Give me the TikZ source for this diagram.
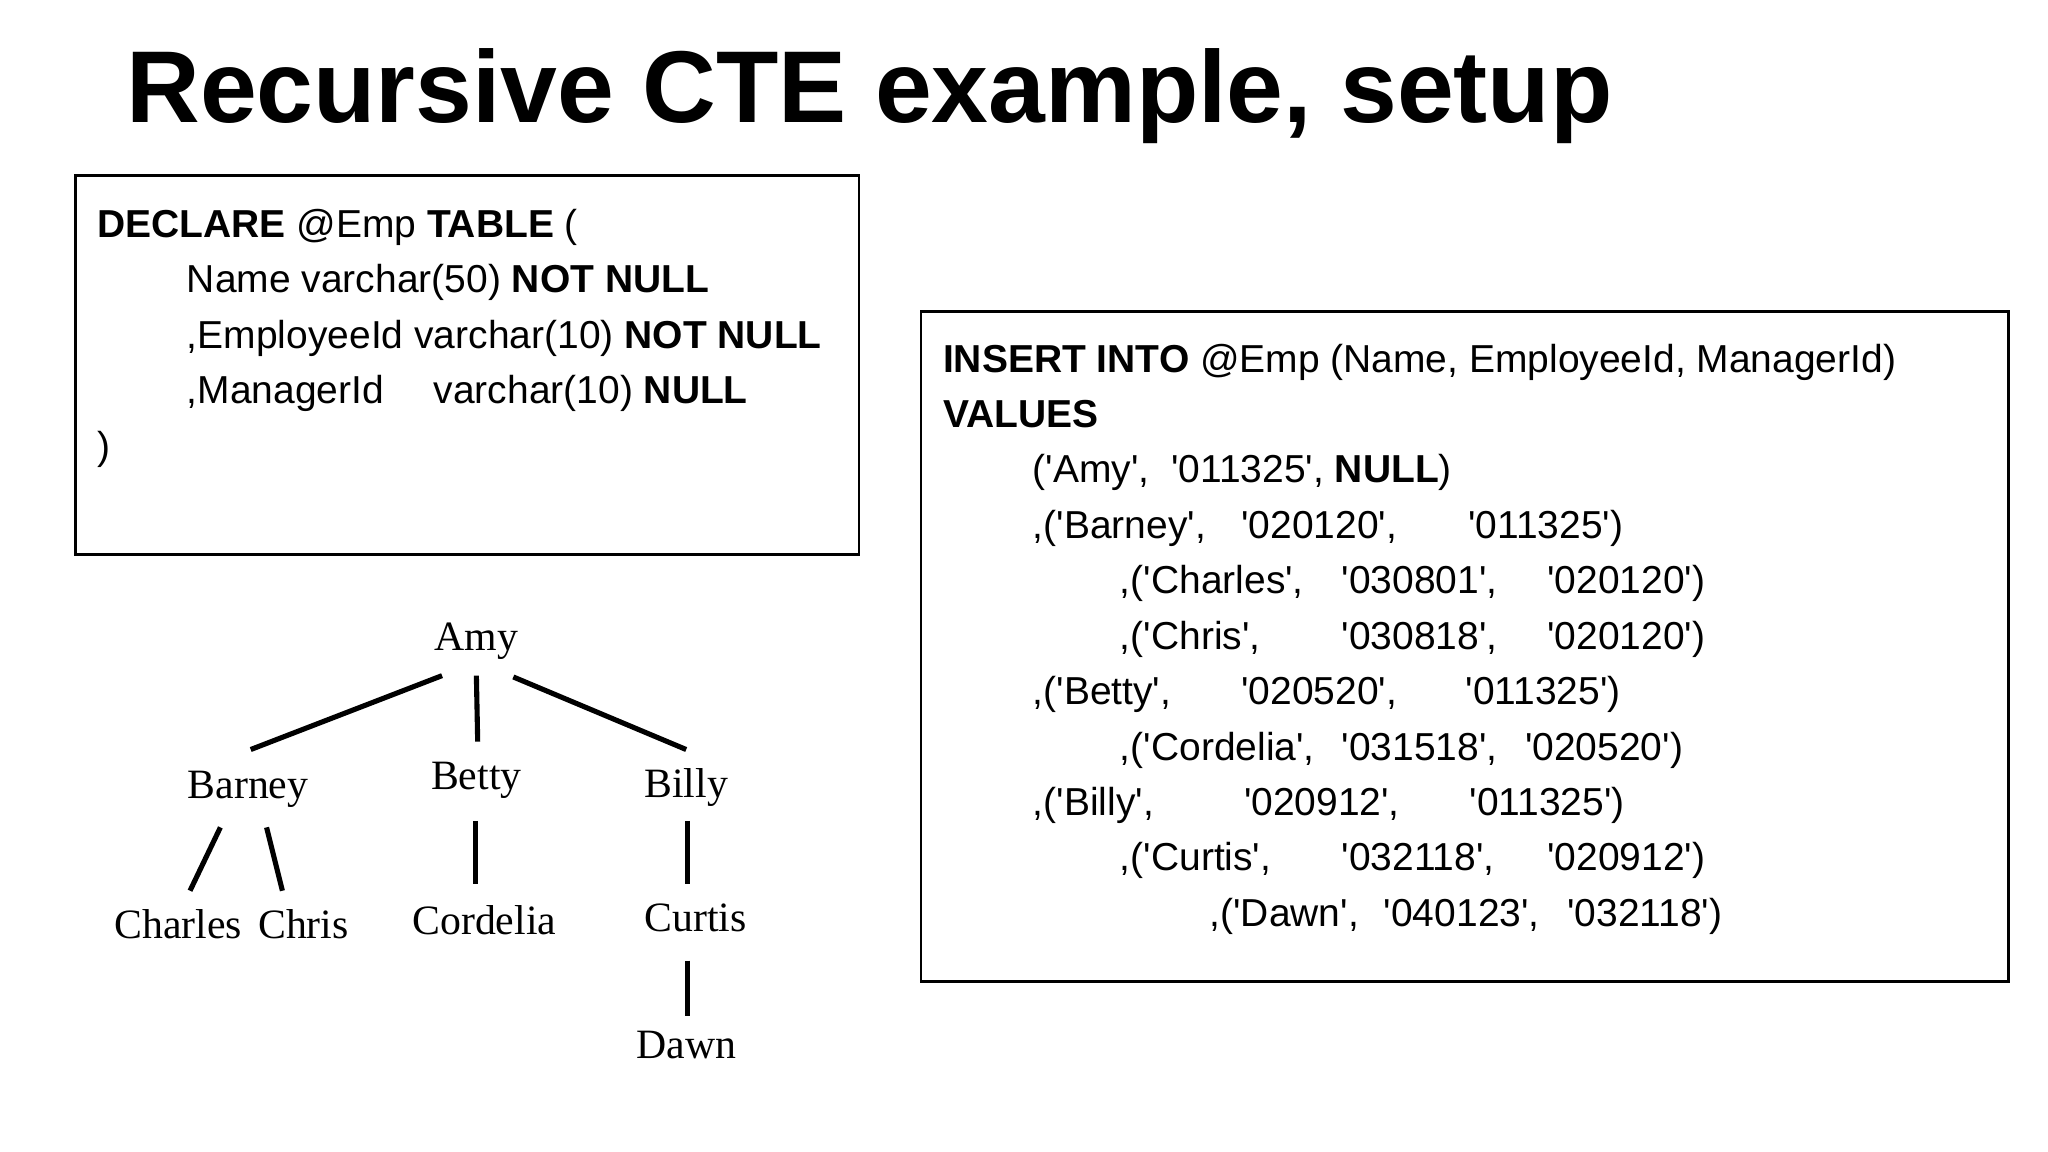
\documentclass[tikz,border=0pt]{standalone}
\usepackage{fontspec}
\setmainfont{Liberation Sans}[Ligatures=TeXOff]
\newfontfamily\treefont{Liberation Serif}
\begin{document}
\begin{tikzpicture}[x=0.01cm,y=-0.01cm,
  code/.style={anchor=base west,inner sep=0pt,font=\fontsize{8.4pt}{10pt}\selectfont},
  tn/.style={anchor=base,inner sep=0pt,font=\treefont\fontsize{9pt}{11pt}\selectfont},
  edge/.style={line width=1.1pt},
  box/.style={draw,line width=0.6pt}]
\useasboundingbox (0,0) rectangle (1552,873);
\node[anchor=base west,inner sep=0pt,font=\bfseries\fontsize{22pt}{24pt}\selectfont] (title) at (95,93) {Recursive CTE example, setup};
\draw[box] (57,133) rectangle (651,420);
\node[code] (l1) at (73,180) {\textbf{DECLARE} @Emp \textbf{TABLE} (};
\node[code] (l2) at (141,222) {Name varchar(50) \textbf{NOT NULL}};
\node[code] (l3) at (141,264) {,EmployeeId varchar(10) \textbf{NOT NULL}};
\node[code] (l4a) at (141,306) {,ManagerId};
\node[code] (l4b) at (328,306) {varchar(10) \textbf{NULL}};
\node[code] (l5) at (73,348) {)};
\draw[box] (698,236) rectangle (1522,744);
\node[code] (r1) at (714,282) {\textbf{INSERT INTO} @Emp (Name, EmployeeId, ManagerId)};
\node[code] (r2) at (714,324) {\textbf{VALUES}};
\node[code] (r3) at (782,366) {('Amy',\ \ '011325', \textbf{NULL})};
\foreach \n/\a/\b/\c/\xa/\xb/\xc/\y in {
 ba/{,('Barney',}/{'020120',}/{'011325')}/782/940/1112/408,
 ch/{,('Charles',}/{'030801',}/{'020120')}/848/1016/1172/450,
 cr/{,('Chris',}/{'030818',}/{'020120')}/848/1016/1172/492,
 be/{,('Betty',}/{'020520',}/{'011325')}/782/940/1110/534,
 co/{,('Cordelia',}/{'031518',}/{'020520')}/848/1016/1155/576,
 bi/{,('Billy',}/{'020912',}/{'011325')}/782/942/1113/618,
 cu/{,('Curtis',}/{'032118',}/{'020912')}/848/1016/1172/660,
 da/{,('Dawn',}/{'040123',}/{'032118')}/916/1048/1187/702}{
 \node[code] (\n1) at (\xa,\y) {\a};
 \node[code] (\n2) at (\xb,\y) {\b};
 \node[code] (\n3) at (\xc,\y) {\c};
}
\node[tn] (amy) at (361,493) {Amy};
\node[tn] (barney) at (188,605) {Barney};
\node[tn] (betty) at (361,598) {Betty};
\node[tn] (billy) at (520,604) {Billy};
\node[tn] (charles) at (135,711) {Charles};
\node[tn] (chris) at (230,711) {Chris};
\node[tn] (cordelia) at (367,708) {Cordelia};
\node[tn] (curtis) at (527,706) {Curtis};
\node[tn] (dawn) at (520,802) {Dawn};
\coordinate (a1) at (335,512); \coordinate (a2) at (190,568);
\coordinate (b1) at (361,512); \coordinate (b2) at (362,562);
\coordinate (c1) at (389,513); \coordinate (c2) at (520,568);
\coordinate (d1) at (167,627); \coordinate (d2) at (144,675);
\coordinate (e1) at (202,627); \coordinate (e2) at (214,675);
\coordinate (f1) at (360,622); \coordinate (f2) at (360,670);
\coordinate (g1) at (521,622); \coordinate (g2) at (521,670);
\coordinate (h1) at (521,728); \coordinate (h2) at (521,770);
\foreach \p in {a,b,c,d,e,f,g,h}{\draw[edge] (\p1) -- (\p2);}
\end{tikzpicture}
\end{document}
